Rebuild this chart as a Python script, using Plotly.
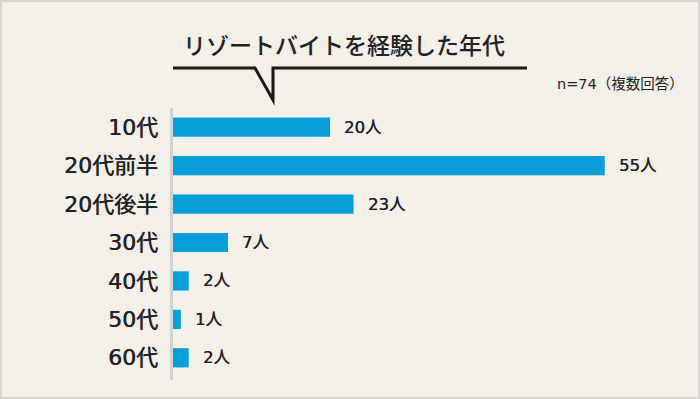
import plotly.graph_objects as go

categories = ["10代", "20代前半", "20代後半", "30代", "40代", "50代", "60代"]
values = [20, 55, 23, 7, 2, 1, 2]
value_labels = [f"{v}人" for v in values]
title_text = "リゾートバイトを経験した年代"
note_text = "n=74（複数回答）"

W, H = 700, 399
L, R, T, B = 173, 56, 108, 22
PW, PH = W - L - R, H - T - B

def px(x):
    return (x - L) / PW

def py(y):
    return (H - B - y) / PH

FONT = "DejaVu Sans, Noto Sans CJK JP"
CJK = "Noto Sans CJK JP"
BG = "#f3efe9"
TXT = "#222222"
THICK = "0.45px 0 0 #222222"

fig = go.Figure()
fig.add_trace(go.Bar(
    x=values, y=categories, orientation="h",
    marker=dict(color="#069fd9", line=dict(width=0)),
    hoverinfo="skip",
))

annotations = []
for c, v, lab in zip(categories, values, value_labels):
    annotations.append(dict(
        x=v, y=c, xref="x", yref="y", text=lab, showarrow=False,
        xanchor="left", yanchor="middle", xshift=12,
        font=dict(family=FONT, size=16.5, color=TXT, shadow="0.3px 0 0 #222222"),
    ))
annotations.append(dict(
    x=px(344), y=py(44), xref="paper", yref="paper", text=title_text,
    showarrow=False, xanchor="center", yanchor="middle",
    font=dict(family=CJK, size=23, color=TXT, weight=500),
))
annotations.append(dict(
    x=px(686), y=py(84), xref="paper", yref="paper", text=note_text,
    showarrow=False, xanchor="right", yanchor="middle",
    font=dict(family=FONT, size=14.5, color=TXT),
))

line = dict(color="#1a1a1a", width=3)
shapes = [
    dict(type="path", xref="paper", yref="paper",
         path=f"M {px(173)},{py(68)} L {px(255)},{py(68)} L {px(273)},{py(100)} L {px(273)},{py(68)} L {px(527)},{py(68)}",
         line=line),
    dict(type="line", xref="paper", yref="paper",
         x0=px(171.5), x1=px(171.5), y0=py(108), y1=py(380),
         line=dict(color="#d2d2d2", width=3)),
    dict(type="rect", xref="paper", yref="paper",
         x0=px(1), x1=px(699), y0=py(1), y1=py(398),
         line=dict(color="#d8d6d2", width=2)),
]

fig.update_layout(
    width=W, height=H,
    margin=dict(l=L, r=R, t=T, b=B),
    paper_bgcolor=BG, plot_bgcolor=BG,
    showlegend=False, bargap=0.5,
    annotations=annotations, shapes=shapes,
    xaxis=dict(range=[0, 60], visible=False, fixedrange=True),
    yaxis=dict(
        categoryorder="array", categoryarray=categories, autorange="reversed",
        showgrid=False, showline=False, zeroline=False, ticks="",
        ticklabelstandoff=14,
        tickfont=dict(family=FONT, size=22, color=TXT, shadow=THICK),
        fixedrange=True,
    ),
)

fig.write_html("out.html", config=dict(displayModeBar=False))
